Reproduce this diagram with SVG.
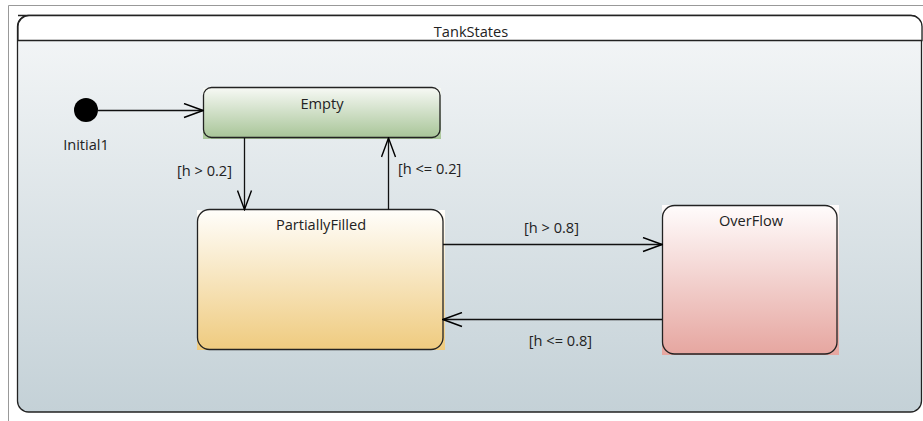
<svg xmlns="http://www.w3.org/2000/svg" width="923" height="421" viewBox="0 0 923 421">
<defs>
<linearGradient id="gBg" x1="0" y1="0" x2="0" y2="1"><stop offset="0" stop-color="#f5f7f8"/><stop offset="1" stop-color="#c4d1d7"/></linearGradient>
<linearGradient id="gEmpty" x1="0" y1="0" x2="0" y2="1"><stop offset="0" stop-color="#f7f9f5"/><stop offset="1" stop-color="#a8c598"/></linearGradient>
<linearGradient id="gPart" x1="0" y1="0" x2="0" y2="1"><stop offset="0" stop-color="#fffefb"/><stop offset="1" stop-color="#efcb7f"/></linearGradient>
<linearGradient id="gOver" x1="0" y1="0" x2="0" y2="1"><stop offset="0" stop-color="#fffcfc"/><stop offset="1" stop-color="#e6a6a0"/></linearGradient>
<marker id="arr" viewBox="0 0 21 16" refX="20" refY="8" markerWidth="21" markerHeight="16" markerUnits="userSpaceOnUse" orient="auto">
<path d="M1,1 L20,8 L1,15" fill="none" stroke="#000" stroke-width="1.4"/>
</marker>
<style>
text{font-family:"Open Sans","Noto Sans","DejaVu Sans",sans-serif;font-size:14.6px;fill:#222}
.c{text-anchor:middle}
.st{stroke:#222;stroke-width:1.3}
.ln{stroke:#111;stroke-width:1.3;fill:none;marker-end:url(#arr)}
</style>
</defs>
<rect width="923" height="421" fill="#fff"/>
<path d="M8.5,421 V5.5 H923" fill="none" stroke="#999" stroke-width="1"/>
<g id="TankStates">
<rect x="17.5" y="15.5" width="904" height="396.5" rx="11" fill="url(#gBg)" stroke="#222" stroke-width="1.3"/>
<path d="M18,15.5 H911 a11,11 0 0 1 11,11 V40.5 H18 V26.5 a11,11 0 0 1 11,-11Z" fill="#fff" stroke="#222" stroke-width="1.3"/>
<text class="c" x="471" y="37">TankStates</text>
</g>
<g id="Initial1">
<circle cx="86" cy="110" r="12" fill="#000"/>
<text class="c" x="86" y="150">Initial1</text>
</g>
<g id="Empty">
<rect x="203" y="88" width="238" height="51" fill="url(#gEmpty)"/>
<rect x="203.5" y="87.5" width="236.5" height="50" rx="8" fill="url(#gEmpty)" class="st"/>
<text class="c" x="322" y="109">Empty</text>
</g>
<g id="PartiallyFilled">
<rect x="197" y="210" width="248" height="140" fill="url(#gPart)"/>
<rect x="197.5" y="209.5" width="245.5" height="140" rx="12" fill="url(#gPart)" class="st"/>
<text class="c" x="321" y="230">PartiallyFilled</text>
</g>
<g id="OverFlow">
<rect x="662" y="205" width="177" height="150" fill="url(#gOver)"/>
<rect x="662.5" y="205.5" width="174.5" height="148.5" rx="12" fill="url(#gOver)" class="st"/>
<text class="c" x="751" y="226">OverFlow</text>
</g>
<g id="connectors">
<path class="ln" d="M98,110.5 H203"/>
<path class="ln" d="M244.5,138 V209.5"/>
<path class="ln" d="M388.5,209.5 V138"/>
<path class="ln" d="M443,244.5 H662"/>
<path class="ln" d="M662,319.5 H443"/>
<text x="177" y="176">[h &gt; 0.2]</text>
<text x="398" y="174">[h &lt;= 0.2]</text>
<text class="c" x="551.5" y="233">[h &gt; 0.8]</text>
<text class="c" x="560.5" y="346">[h &lt;= 0.8]</text>
</g>
</svg>
